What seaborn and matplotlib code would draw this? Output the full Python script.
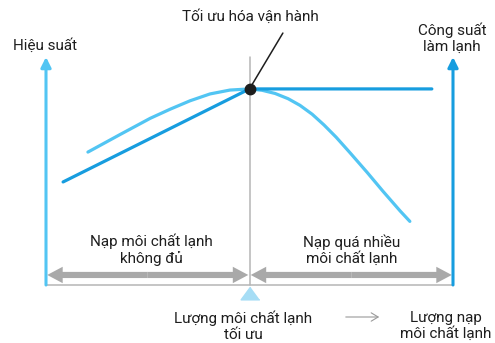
import numpy as np
import pandas as pd
import matplotlib
matplotlib.use("Agg")
import matplotlib.pyplot as plt
from matplotlib.patches import FancyArrow, FancyArrowPatch
import seaborn as sns

# ---- data (x: refrigerant charge 0..10, y: level 0..10) ----
eff_charge = [1.03, 1.82, 2.56, 3.05, 3.54, 4.03, 4.52, 5.0,
              5.31, 5.63, 5.95, 6.24, 6.54, 6.83, 7.13, 7.47, 7.89, 8.28, 8.70, 8.94]
eff_value = [5.83, 6.60, 7.31, 7.71, 8.08, 8.38, 8.55, 8.6,
             8.54, 8.40, 8.17, 7.88, 7.49, 7.02, 6.48, 5.80, 4.94, 4.11, 3.25, 2.79]
cap_charge = [0.42, 5.0, 9.48]
cap_value = [4.52, 8.6, 8.6]
optimum_charge = 5.0
optimum_value = 8.6
axis_top = 10.0
x_max = 10.0

title_label = "Tối ưu hóa vận hành"
left_axis_label = "Hiệu suất"
right_axis_label = "Công suất\nlàm lạnh"
under_label = "Nạp môi chất lạnh\nkhông đủ"
over_label = "Nạp quá nhiều\nmôi chất lạnh"
optimum_label = "Lượng môi chất lạnh\ntối ưu"
x_axis_label = "Lượng nạp\nmôi chất lạnh"

LIGHT = "#52C5F3"
DARK = "#179DDF"
GRAY_ARROW = "#A9A9A9"
GRAY_LINE = "#B5B5B5"
TXT = "#1E1E1E"

sns.set_theme(style="white")
plt.rcParams["font.family"] = ["Roboto", "DejaVu Sans"]

W, H = 495, 343
fig = plt.figure(figsize=(W / 100, H / 100), dpi=100)

def fx(px):
    return px / W

def fy(py):
    return 1 - py / H

ax = fig.add_axes([fx(46), fy(285), fx(453) - fx(46), fy(57) - fy(285)])
ax.set_xlim(0, x_max)
ax.set_ylim(0, axis_top)
ax.axis("off")

df = pd.concat([
    pd.DataFrame({"charge": eff_charge, "value": eff_value, "series": "eff"}),
    pd.DataFrame({"charge": cap_charge, "value": cap_value, "series": "cap"}),
])
sns.lineplot(data=df, x="charge", y="value", hue="series", palette={"eff": LIGHT, "cap": DARK},
             sort=False, estimator=None, linewidth=2.3, legend=False, ax=ax)
for ln in ax.get_lines():
    ln.set_zorder(3)
    ln.set_solid_joinstyle("round")

# optimum vertical line
ax.plot([optimum_charge, optimum_charge], [0, axis_top], color=GRAY_LINE, lw=1.1, zorder=1, clip_on=False)
# baseline
ax.plot([0, x_max], [0, 0], color=GRAY_LINE, lw=1.1, zorder=1, clip_on=False)

# axes arrows
ax.annotate("", xy=(0, axis_top), xytext=(0, 0),
            arrowprops=dict(arrowstyle="-|>,head_length=0.5,head_width=0.25", color=LIGHT, lw=2.2,
                            shrinkA=0, shrinkB=0), annotation_clip=False)
ax.annotate("", xy=(x_max, axis_top), xytext=(x_max, 0),
            arrowprops=dict(arrowstyle="-|>,head_length=0.5,head_width=0.25", color=DARK, lw=2.2,
                            shrinkA=0, shrinkB=0), annotation_clip=False)

# leader line + dot
ax.plot([optimum_charge, 5.82], [optimum_value, 11.05], color=TXT, lw=1.1, clip_on=False, zorder=4)
ax.plot([optimum_charge], [optimum_value], "o", color=TXT, ms=7.5, zorder=5, clip_on=False)

# double arrows
ay = 0.44
for (a, b) in [(0.03, optimum_charge - 0.03), (optimum_charge + 0.03, x_max - 0.03)]:
    mid = (a + b) / 2
    for end in (a, b):
        ax.add_patch(FancyArrow(mid, ay, end - mid, 0, width=0.27, head_width=0.72, head_length=0.38,
                                length_includes_head=True, color=GRAY_ARROW, lw=0, zorder=2, clip_on=False))

# optimum triangle marker
ax.plot([optimum_charge], [-0.33], marker=[(0, 0.68), (-1, -0.68), (1, -0.68)], color="#A6DDF5",
        ms=13.5, clip_on=False, zorder=2, lw=0)

fs = 11
fig.text(fx(250), fy(17), title_label, ha="center", va="center", fontsize=fs, color=TXT)
fig.text(fx(13), fy(46), left_axis_label, ha="left", va="center", fontsize=fs, color=TXT)
fig.text(fx(452), fy(38), right_axis_label, ha="center", va="center", fontsize=fs, color=TXT, linespacing=1.15)
fig.text(fx(151), fy(250), under_label, ha="center", va="center", fontsize=fs, color=TXT, linespacing=1.15)
fig.text(fx(352), fy(250), over_label, ha="center", va="center", fontsize=fs, color=TXT, linespacing=1.15)
fig.text(fx(243), fy(326), optimum_label, ha="center", va="center", fontsize=fs, color=TXT, linespacing=1.15)
fig.text(fx(446), fy(326), x_axis_label, ha="center", va="center", fontsize=fs, color=TXT, linespacing=1.15)
fig.add_artist(FancyArrowPatch((fx(343), fy(317)), (fx(382), fy(317)),
               transform=fig.transFigure, arrowstyle="->,head_length=5,head_width=3",
               color="#9A9A9A", lw=0.8))

fig.savefig("out.png", dpi=100, facecolor="white")
